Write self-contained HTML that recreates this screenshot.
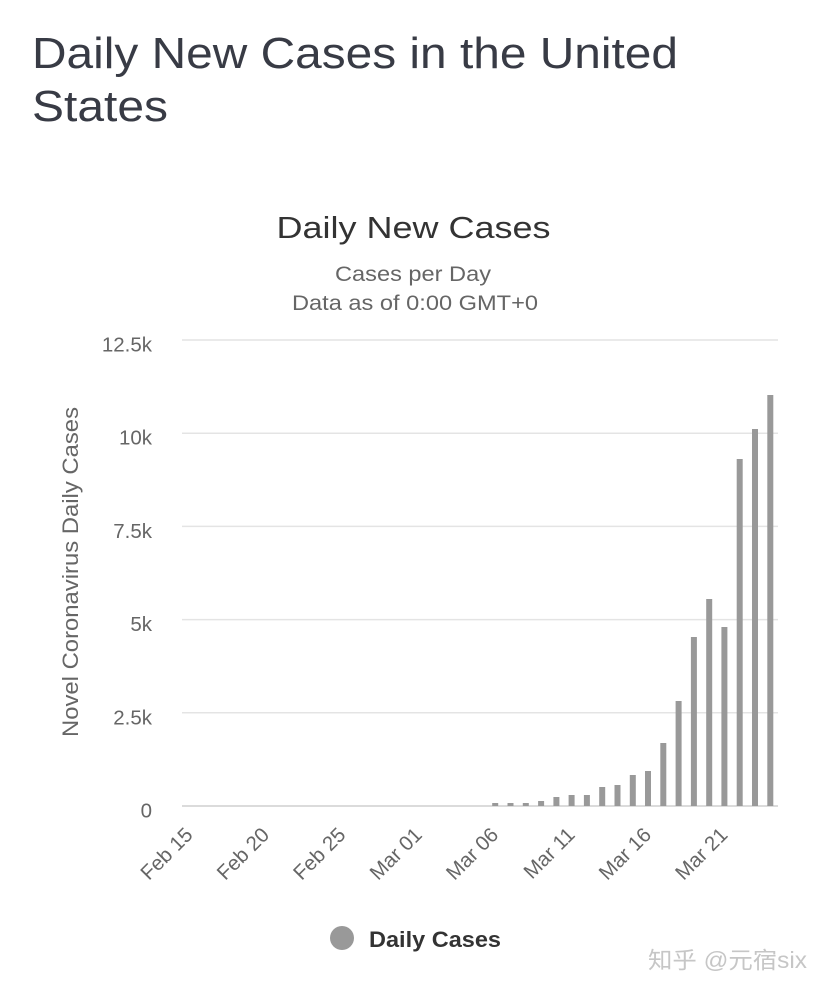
<!DOCTYPE html>
<html>
<head>
<meta charset="utf-8">
<style>
  html, body { margin: 0; padding: 0; background: #ffffff; }
  body { width: 828px; height: 991px; overflow: hidden; }
  svg { display: block; }
  text { font-family: "Liberation Sans", Arial, sans-serif; }
</style>
</head>
<body>
<svg width="828" height="991" viewBox="0 0 828 991" xmlns="http://www.w3.org/2000/svg">
  <rect x="0" y="0" width="828" height="991" fill="#ffffff"/>

  <!-- Page title -->
  <text x="32" y="68" font-size="44" fill="#383b45" textLength="646" lengthAdjust="spacingAndGlyphs">Daily New Cases in the United</text>
  <text x="32" y="121" font-size="44" fill="#383b45" textLength="136" lengthAdjust="spacingAndGlyphs">States</text>

  <!-- Chart title / subtitles -->
  <text x="413.5" y="238" font-size="31" fill="#333333" text-anchor="middle" textLength="274" lengthAdjust="spacingAndGlyphs">Daily New Cases</text>
  <text x="413" y="281" font-size="21" fill="#666666" text-anchor="middle" textLength="156" lengthAdjust="spacingAndGlyphs">Cases per Day</text>
  <text x="415" y="310" font-size="21" fill="#666666" text-anchor="middle" textLength="246" lengthAdjust="spacingAndGlyphs">Data as of 0:00 GMT+0</text>

  <!-- Grid lines -->
  <g stroke="#e4e4e4" stroke-width="1.5">
    <line x1="182" y1="340" x2="778" y2="340"/>
    <line x1="182" y1="433.2" x2="778" y2="433.2"/>
    <line x1="182" y1="526.4" x2="778" y2="526.4"/>
    <line x1="182" y1="619.6" x2="778" y2="619.6"/>
    <line x1="182" y1="712.8" x2="778" y2="712.8"/>
  </g>
  <line x1="182" y1="806" x2="778" y2="806" stroke="#cfcfcf" stroke-width="1.6"/>

  <!-- Y labels -->
  <g font-size="20.5" fill="#666666" text-anchor="end">
    <text x="152" y="351.5">12.5k</text>
    <text x="152" y="444.7">10k</text>
    <text x="152" y="537.9">7.5k</text>
    <text x="152" y="631.1">5k</text>
    <text x="152" y="724.3">2.5k</text>
    <text x="152" y="817.5">0</text>
  </g>

  <!-- Y axis title -->
  <g transform="translate(78,572) rotate(-90)">
    <text x="0" y="0" font-size="22.5" fill="#666666" text-anchor="middle" textLength="330" lengthAdjust="spacingAndGlyphs">Novel Coronavirus Daily Cases</text>
  </g>

  <!-- Bars -->
  <g fill="#999999">
    <rect x="492.2" y="803" width="6" height="3"/>
    <rect x="507.5" y="803" width="6" height="3"/>
    <rect x="522.8" y="803" width="6" height="3"/>
    <rect x="538.1" y="801" width="6" height="5"/>
    <rect x="553.4" y="797" width="6" height="9"/>
    <rect x="568.6" y="795" width="6" height="11"/>
    <rect x="583.9" y="795" width="6" height="11"/>
    <rect x="599.2" y="787" width="6" height="19"/>
    <rect x="614.5" y="785" width="6" height="21"/>
    <rect x="629.8" y="775" width="6" height="31"/>
    <rect x="645.0" y="771" width="6" height="35"/>
    <rect x="660.3" y="743" width="6" height="63"/>
    <rect x="675.6" y="701" width="6" height="105"/>
    <rect x="690.9" y="637" width="6" height="169"/>
    <rect x="706.2" y="599" width="6" height="207"/>
    <rect x="721.4" y="627" width="6" height="179"/>
    <rect x="736.7" y="459" width="6" height="347"/>
    <rect x="752.0" y="429" width="6" height="377"/>
    <rect x="767.3" y="395" width="6" height="411"/>
  </g>

  <!-- X labels -->
  <g font-size="20.5" fill="#666666" text-anchor="end">
    <text transform="translate(194,836) rotate(-45)">Feb 15</text>
    <text transform="translate(270.4,836) rotate(-45)">Feb 20</text>
    <text transform="translate(346.8,836) rotate(-45)">Feb 25</text>
    <text transform="translate(423.2,836) rotate(-45)">Mar 01</text>
    <text transform="translate(499.6,836) rotate(-45)">Mar 06</text>
    <text transform="translate(576,836) rotate(-45)">Mar 11</text>
    <text transform="translate(652.4,836) rotate(-45)">Mar 16</text>
    <text transform="translate(728.8,836) rotate(-45)">Mar 21</text>
  </g>

  <!-- Legend -->
  <circle cx="342" cy="938" r="12" fill="#999999"/>
  <text x="369" y="947" font-size="22" font-weight="bold" fill="#333333" textLength="132" lengthAdjust="spacingAndGlyphs">Daily Cases</text>

  <!-- Watermark -->
  <text x="648" y="968" font-size="23" fill="#c6c6c6" textLength="159" lengthAdjust="spacingAndGlyphs" style="font-family: 'Liberation Sans', 'Noto Sans CJK SC', sans-serif;">知乎 @元宿six</text>
</svg>
</body>
</html>
